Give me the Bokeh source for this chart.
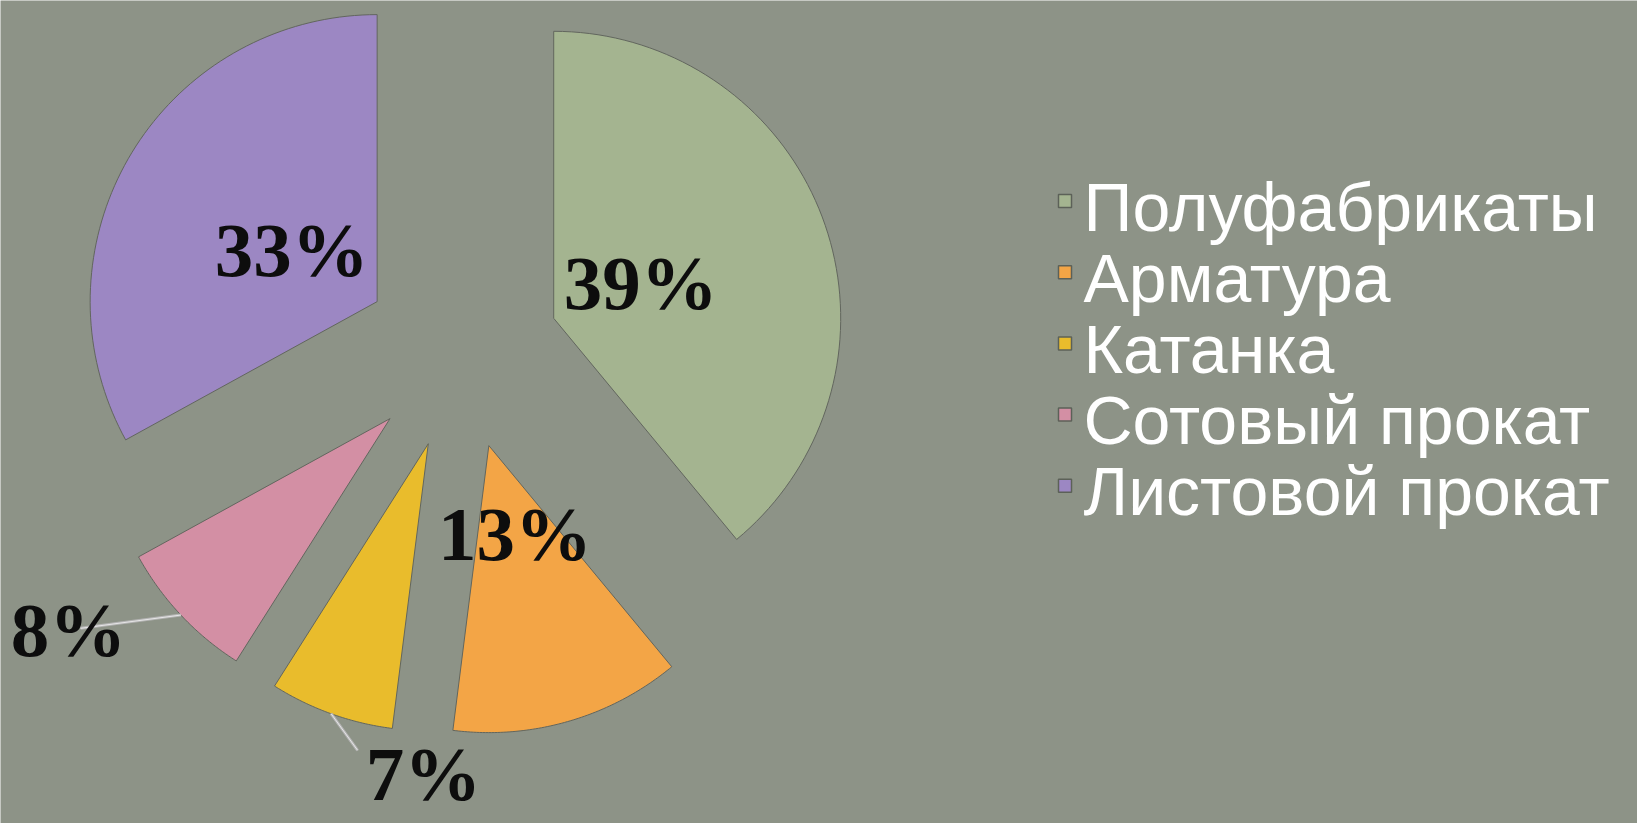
import numpy as np
from bokeh.plotting import figure
from bokeh.models import Range1d, ColumnDataSource
from bokeh.core.properties import value
from bokeh.embed import file_html
from bokeh.resources import INLINE

# ---- data ----
categories = ["Полуфабрикаты", "Арматура", "Катанка", "Сотовый прокат", "Листовой прокат"]
shares = [39, 13, 7, 8, 33]
labels = ["39%", "13%", "7%", "8%", "33%"]
colors = ["#A4B490", "#F3A546", "#E9BC2C", "#D38FA4", "#9C87C3"]

# ---- layout (pixels) ----
W, H = 1637, 823
R_PX = 287.0                 # pie radius in px (1 data unit)
CX_PX, CY_PX = 461.0, 351.0  # pie centre inside the figure
EXPLODE = 98.0 / R_PX        # explosion distance (data units)
# label anchors (angle clockwise from north in degrees, radius in data units)
label_pos = [(78.1, 0.638), (165.9, 0.765), (184.8, 1.584), (231.8, 1.742), (292.6, 0.641)]
# leader line end points (polar), None where no leader
leader_end = [None, None, (194.6, 1.436), (234.0, 1.641), None]
LABEL_SIZE = 77
LEG_SIZE = 68

p = figure(width=W, height=H, output_backend="svg", toolbar_location=None,
           x_range=Range1d(-CX_PX / R_PX, (W - CX_PX) / R_PX),
           y_range=Range1d(-(H - CY_PX) / R_PX, CY_PX / R_PX),
           min_border=0)
p.axis.visible = False
p.grid.visible = False
p.outline_line_color = None
p.background_fill_color = "#8D9387"
p.border_fill_color = "#8D9387"

total = float(sum(shares))
xs, ys, mids, apexes = [], [], [], []
start = 0.0
for v in shares:
    a0 = start
    a1 = start + 360.0 * v / total
    start = a1
    mid = np.radians((a0 + a1) / 2)
    ax, ay = EXPLODE * np.sin(mid), EXPLODE * np.cos(mid)
    t = np.radians(np.linspace(a0, a1, 80))
    xs.append(list(np.concatenate([[ax], ax + np.sin(t), [ax]])))
    ys.append(list(np.concatenate([[ay], ay + np.cos(t), [ay]])))
    mids.append(mid)
    apexes.append((ax, ay))

p.patches(xs=xs, ys=ys, fill_color=colors, line_color="#62665e", line_width=1)

# leader lines
for i, le in enumerate(leader_end):
    if le is None:
        continue
    ax, ay = apexes[i]
    sx, sy = ax + np.sin(mids[i]), ay + np.cos(mids[i])
    ang, r = np.radians(le[0]), le[1]
    ex, ey = r * np.sin(ang), r * np.cos(ang)
    p.line([sx, ex], [sy, ey], line_color="#b5b5b5", line_width=3)
    p.line([sx, ex], [sy, ey], line_color="#e6e6e6", line_width=1)

lx = [r * np.sin(np.radians(a)) for a, r in label_pos]
ly = [r * np.cos(np.radians(a)) for a, r in label_pos]
p.text(x=lx, y=ly, text=labels, text_font=value("Liberation Serif"), text_font_style="bold",
       text_font_size=f"{LABEL_SIZE}px", text_color="#0d0d0d", text_align="center",
       text_baseline="alphabetic", y_offset=-0.40 * LABEL_SIZE)

# legend (manual)
LEG_SQ_X, LEG_TX_X = 1064.5, 1083.0
LEG_BASE0, LEG_STEP, LEG_SQ_DY = 232.0, 71.2, -31.5
leg_src = ColumnDataSource(dict(
    sx=[(LEG_SQ_X - CX_PX) / R_PX] * len(categories),
    tx=[(LEG_TX_X - CX_PX) / R_PX] * len(categories),
    by=[(CY_PX - (LEG_BASE0 + i * LEG_STEP)) / R_PX for i in range(len(categories))],
    sy=[(CY_PX - (LEG_BASE0 + i * LEG_STEP + LEG_SQ_DY)) / R_PX for i in range(len(categories))],
    name=categories, color=colors))
p.scatter(x="sx", y="sy", marker="square", size=13, fill_color="color",
          line_color="#5c6158", line_width=1.5, source=leg_src)
p.text(x="tx", y="by", text="name", source=leg_src, text_font=value("Liberation Sans"),
       text_font_size=f"{LEG_SIZE}px", text_color="#ffffff", text_align="left",
       text_baseline="alphabetic", y_offset=-0.38 * LEG_SIZE)

open("out.html", "w").write(file_html(p, INLINE))
